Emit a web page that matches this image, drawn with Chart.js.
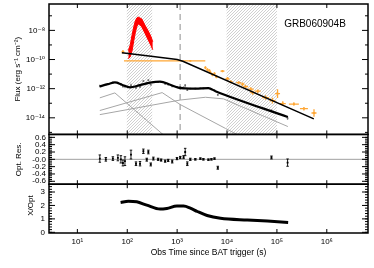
<!DOCTYPE html>
<html>
<head>
<meta charset="utf-8">
<script src="https://cdn.jsdelivr.net/npm/chart.js@4.4.0/dist/chart.umd.min.js"></script>
<style>
html, body { margin: 0; padding: 0; background: #fff; }
#wrap { position: relative; width: 374px; height: 268px; }
</style>
</head>
<body>
<div id="wrap"><canvas id="lc" width="374" height="268"></canvas></div>
<script>
// axis ranges
const tMin = 2.7, tMax = 6.7e6;
const fluxMinExp = -15.14, fluxMaxExp = -6.19;
const resMin = -0.68, resMax = 0.68;
const ratioMin = -0.05, ratioMax = 3.58;

// tick labels
const xTickVals = [1e1, 1e2, 1e3, 1e4, 1e5, 1e6];
const xTickLbls = ['10¹', '10²', '10³', '10⁴', '10⁵', '10⁶'];
const fluxTickExp = [-8, -10, -12, -14];
const fluxTickLbls = ['10⁻⁸', '10⁻¹⁰', '10⁻¹²', '10⁻¹⁴'];
const fluxMinorExp = [-7, -9, -11, -13, -15];
const resTicks = [0.6, 0.4, 0.2, 0, -0.2, -0.4, -0.6];
const resTickLbls = ['0.6', '0.4', '0.2', '-0.0', '-0.2', '-0.4', '-0.6'];
const ratioTicks = [0, 1, 2, 3];

// shaded intervals and break line (s)
const hatchFrom = [98, 9800];
const hatchTo = [316, 100000];
const breakT = 1150;

// BAT (red band), log10 flux
const batT = [105, 115, 125, 135, 145, 155, 165, 180, 195, 210, 230, 250, 275, 300, 325];
const batHi = [-9.40, -8.99, -8.31, -7.76, -7.35, -7.15, -7.08, -7.15, -7.21, -7.42, -7.69, -7.90, -8.17, -8.44, -8.79];
const batLo = [-9.95, -9.81, -9.40, -8.72, -8.17, -7.76, -7.56, -7.62, -7.76, -7.97, -8.24, -8.51, -8.79, -9.06, -9.33];

// XRT points (orange), log10 flux, errors in dex
const xrtT = [82, 1840, 3690, 4050, 4440, 4650, 5100, 5600, 6140, 8110, 10200, 11800, 17100, 20500, 23600, 29800, 32700, 41200, 59200, 81400, 103000, 131000, 219000, 348000, 554000];
const xrtF = [-9.47, -10.09, -10.56, -10.70, -10.77, -10.90, -11.04, -10.97, -11.18, -10.80, -11.32, -11.52, -11.59, -11.69, -11.86, -12.03, -12.27, -12.17, -12.61, -12.82, -12.34, -13.02, -13.06, -13.37, -13.67];
const xrtDtL = [0.03, 1.33, 0.02, 0.02, 0.02, 0.02, 0.02, 0.02, 0.03, 0.04, 0.04, 0.04, 0.05, 0.04, 0.05, 0.06, 0.05, 0.06, 0.07, 0.06, 0.05, 0.06, 0.10, 0.08, 0.05];
const xrtDtR = [0.03, 0.30, 0.02, 0.02, 0.02, 0.02, 0.02, 0.02, 0.03, 0.04, 0.04, 0.04, 0.05, 0.04, 0.05, 0.06, 0.05, 0.06, 0.07, 0.06, 0.05, 0.06, 0.10, 0.08, 0.05];
const xrtDf = [0.12, 0.03, 0.10, 0.10, 0.10, 0.10, 0.10, 0.10, 0.10, 0.08, 0.12, 0.10, 0.10, 0.12, 0.12, 0.12, 0.15, 0.12, 0.15, 0.20, 0.30, 0.15, 0.12, 0.12, 0.25];

// X-ray model
const xModelT = [78, 300, 1000, 1300, 550000];
const xModelF = [-9.54, -9.78, -10.00, -10.12, -14.07];

// optical model
const optModelT = [28.2, 40.9, 56.5, 78.2, 113, 180, 287, 456, 726, 1052, 1456, 2317, 4240, 5860, 165500];
const optModelF = [-11.84, -11.69, -11.57, -11.73, -11.91, -11.76, -11.59, -11.52, -11.73, -11.93, -11.98, -12.00, -11.96, -12.17, -13.95];

// optical data: flux, residual, error
const optT = [28.2, 37.2, 51.5, 64.9, 74.6, 81.9, 89.9, 118.8, 149.7, 180.3, 210.5, 246, 265, 296, 334, 416, 478, 575, 662, 797, 991, 1154, 1346, 1450, 1600, 1837, 2317, 2924, 3360, 4240, 4870, 5600, 6530, 77800, 163700];
const optF = [-11.82, -11.73, -11.58, -11.60, -11.71, -11.85, -11.85, -11.77, -11.94, -11.88, -11.48, -11.66, -11.42, -11.73, -11.55, -11.53, -11.56, -11.67, -11.72, -11.84, -11.88, -11.89, -11.91, -11.78, -12.10, -11.99, -12.00, -11.97, -11.98, -11.97, -12.05, -12.10, -12.42, -13.49, -14.04];
const optRes = [0.02, 0.00, 0.02, 0.04, 0.00, -0.10, -0.05, 0.13, -0.12, -0.12, 0.22, -0.01, 0.20, -0.14, 0.02, 0.00, -0.02, -0.05, -0.03, -0.06, 0.02, 0.05, 0.06, 0.20, -0.12, 0.00, 0.00, 0.02, 0.00, -0.01, 0.00, 0.02, -0.23, 0.05, -0.09];
const optErr = [0.10, 0.05, 0.05, 0.08, 0.10, 0.08, 0.12, 0.12, 0.05, 0.06, 0.06, 0.04, 0.05, 0.04, 0.04, 0.03, 0.03, 0.03, 0.03, 0.04, 0.03, 0.03, 0.04, 0.10, 0.05, 0.03, 0.02, 0.02, 0.02, 0.02, 0.02, 0.02, 0.04, 0.04, 0.10];

// model components (grey)
const compAT = [28.2, 56.5, 708];
const compAF = [-12.63, -12.29, -15.54];
const compBT = [28.2, 501, 1153, 9330, 20000];
const compBF = [-13.50, -12.27, -13.09, -14.73, -15.32];
const compCT = [28.2, 1153, 3690, 8490, 166000];
const compCF = [-13.78, -12.78, -12.59, -12.70, -14.60];

// X/Opt ratio
const ratioT = [73.6, 105, 155, 246, 456, 622, 991, 1346, 1837, 2540, 3990, 7390, 25500, 64500, 168000];
const ratioV = [2.22, 2.32, 2.27, 2.02, 1.73, 1.78, 1.95, 1.95, 1.80, 1.55, 1.25, 1.04, 0.91, 0.84, 0.74];

const p10 = v => Math.pow(10, v);
const logPts = (ts, vs) => ts.map((t, i) => ({x: t, y: p10(vs[i])}));
const linPts = (ts, vs) => ts.map((t, i) => ({x: t, y: vs[i]}));

// error bars as broken line segments
function errBars(ts, vs, dv, dxL, dxR, logY, cap) {
    const out = [];
    const Y = v => logY ? p10(v) : v;
    ts.forEach((t, i) => {
        const v = vs[i], d = dv[i];
        out.push({x: t, y: Y(v - d)}, {x: t, y: Y(v + d)}, {x: t, y: NaN});
        if (dxL) {
            out.push({x: t / p10(dxL[i]), y: Y(v)}, {x: t * p10(dxR[i]), y: Y(v)}, {x: t, y: NaN});
        }
        if (cap) {
            const k = p10(cap);
            [v - d, v + d].forEach(e => out.push({x: t / k, y: Y(e)}, {x: t * k, y: Y(e)}, {x: t, y: NaN}));
        }
    });
    return out;
}

// hatch pattern
const hatchTile = (() => {
    const c = document.createElement('canvas');
    c.width = 3; c.height = 3;
    const g = c.getContext('2d');
    g.strokeStyle = '#c4c4c4';
    g.lineWidth = 0.8;
    g.beginPath();
    g.moveTo(0, 3); g.lineTo(3, 0);
    g.moveTo(-1, 1); g.lineTo(1, -1);
    g.moveTo(2, 4); g.lineTo(4, 2);
    g.stroke();
    return c;
})();

const panels = [
    {id: 'y', major: fluxTickExp.map(p10), minor: fluxMinorExp.map(p10)},
    {id: 'yr', major: resTicks, minor: Array.from({length: 25}, (_, i) => -0.6 + i * 0.05)},
    {id: 'yx', major: ratioTicks, minor: Array.from({length: 18}, (_, i) => i * 0.2)}
];

const decor = {
    id: 'decor',
    beforeDatasetsDraw(chart) {
        const {ctx} = chart;
        const x = chart.scales.x, y = chart.scales.y;
        ctx.save();
        ctx.fillStyle = ctx.createPattern(hatchTile, 'repeat');
        hatchFrom.forEach((t0, i) => {
            const a = x.getPixelForValue(t0), b = x.getPixelForValue(hatchTo[i]);
            ctx.fillRect(a, y.top, b - a, y.bottom - y.top);
        });
        ctx.restore();
    },
    afterDatasetsDraw(chart) {
        const {ctx} = chart;
        const x = chart.scales.x;
        ctx.save();
        ctx.strokeStyle = '#000';
        panels.forEach(p => {
            const s = chart.scales[p.id];
            ctx.lineWidth = 1;
            ctx.beginPath();
            const tick = (vals, len) => vals.forEach(v => {
                const py = s.getPixelForValue(v);
                if (py < s.top - 0.5 || py > s.bottom + 0.5) return;
                ctx.moveTo(x.left, py); ctx.lineTo(x.left + len, py);
                ctx.moveTo(x.right, py); ctx.lineTo(x.right - len, py);
            });
            tick(p.major, 6);
            tick(p.minor, 3);
            xTickVals.forEach(v => {
                const px = x.getPixelForValue(v);
                ctx.moveTo(px, s.top); ctx.lineTo(px, s.top + 4);
                ctx.moveTo(px, s.bottom); ctx.lineTo(px, s.bottom - 4);
            });
            ctx.stroke();
            ctx.lineWidth = 1.5;
            ctx.strokeRect(x.left, s.top, x.right - x.left, s.bottom - s.top);
        });
        ctx.restore();
    },
    afterDraw(chart) {
        const {ctx} = chart;
        const x = chart.scales.x;
        ctx.save();
        ctx.fillStyle = '#000';
        ctx.textAlign = 'center';
        ctx.textBaseline = 'middle';
        ctx.font = '10px "Liberation Sans"';
        ctx.fillText('GRB060904B', 315, 24);
        ctx.font = '8.5px "Liberation Sans"';
        ctx.fillText('Obs Time since BAT trigger (s)', (x.left + x.right) / 2, 253);
        const vtitle = (txt, cx, cy) => {
            ctx.save();
            ctx.translate(cx, cy);
            ctx.rotate(-Math.PI / 2);
            ctx.fillText(txt, 0, 0);
            ctx.restore();
        };
        ctx.font = '8px "Liberation Sans"';
        const sy = chart.scales.y, sr = chart.scales.yr, sx = chart.scales.yx;
        vtitle('Flux (erg s⁻¹ cm⁻²)', 18, (sy.top + sy.bottom) / 2);
        vtitle('Opt. Res.', 19, (sr.top + sr.bottom) / 2);
        vtitle('X/Opt', 31, (sx.top + sx.bottom) / 2 - 3);
        ctx.restore();
    }
};

const orange = '#ffa735';
const compGrey = '#a6a6a6';

const datasets = [
    {data: logPts(xModelT, xModelF), yAxisID: 'y', borderColor: '#000', borderWidth: 1.5},
    {data: logPts(optModelT, optModelF), yAxisID: 'y', borderColor: '#000', borderWidth: 2.2, cubicInterpolationMode: 'monotone'},
    {data: logPts(xrtT, xrtF), yAxisID: 'y', showLine: false, pointRadius: 1.3, pointStyle: 'rect', pointBackgroundColor: orange, pointBorderWidth: 0},
    {data: errBars(xrtT, xrtF, xrtDf, xrtDtL, xrtDtR, true), yAxisID: 'y', borderColor: orange, borderWidth: 1.3},
    {data: logPts(optT, optF), yAxisID: 'y', showLine: false, pointRadius: 1.2, pointStyle: 'rect', pointBackgroundColor: '#707070', pointBorderWidth: 0},
    {data: errBars(optT, optF, optErr, null, null, true), yAxisID: 'y', borderColor: '#8a8a8a', borderWidth: 1},
    {data: logPts(batT, batHi), yAxisID: 'y', borderColor: '#ff0000', borderWidth: 1, backgroundColor: '#ff0000', fill: '+1'},
    {data: logPts(batT, batLo), yAxisID: 'y', borderColor: '#ff0000', borderWidth: 1},
    {data: logPts(compAT, compAF), yAxisID: 'y', borderColor: compGrey, borderWidth: 1},
    {data: logPts(compBT, compBF), yAxisID: 'y', borderColor: compGrey, borderWidth: 1},
    {data: logPts(compCT, compCF), yAxisID: 'y', borderColor: compGrey, borderWidth: 1},
    {data: [{x: breakT, y: p10(fluxMaxExp)}, {x: breakT, y: p10(fluxMinExp)}], yAxisID: 'y', borderColor: '#b8b8b8', borderWidth: 1.6, borderDash: [6, 4]},
    // residuals
    {data: linPts(optT, optRes), yAxisID: 'yr', showLine: false, pointRadius: 1.3, pointStyle: 'rect', pointBackgroundColor: '#000', pointBorderWidth: 0},
    {data: errBars(optT, optRes, optErr, null, null, false, 0.025), yAxisID: 'yr', borderColor: '#000', borderWidth: 0.9},
    {data: [{x: tMin, y: 0}, {x: tMax, y: 0}], yAxisID: 'yr', borderColor: '#a0a0a0', borderWidth: 1},
    // ratio
    {data: linPts(ratioT, ratioV), yAxisID: 'yx', borderColor: '#000', borderWidth: 3, cubicInterpolationMode: 'monotone'}
];
datasets.forEach(d => { if (d.pointRadius === undefined) d.pointRadius = 0; });

Chart.defaults.font.family = '"Liberation Sans", "DejaVu Sans", sans-serif';
Chart.defaults.font.size = 8;
Chart.defaults.color = '#000';

const noPad = s => { s.paddingTop = 0; s.paddingBottom = 0; s.paddingLeft = 0; s.paddingRight = 0; };

const yBase = (w) => ({
    position: 'left',
    stack: 'panels',
    grid: {display: false, drawTicks: false},
    border: {display: false},
    ticks: {padding: 4, autoSkip: false},
    afterFit: s => { s.width = 49; noPad(s); },
    weight: w
});

const lc = new Chart(document.getElementById('lc'), {
    type: 'line',
    data: {datasets},
    plugins: [decor],
    options: {
        responsive: false,
        animation: false,
        devicePixelRatio: 1,
        layout: {padding: {top: 3, right: 6, left: 0, bottom: 0}},
        plugins: {legend: {display: false}, tooltip: {enabled: false}},
        elements: {line: {tension: 0}},
        scales: {
            x: {
                type: 'logarithmic', position: 'bottom', min: tMin, max: tMax,
                grid: {display: false, drawTicks: false},
                border: {display: false},
                afterBuildTicks: s => { s.ticks = xTickVals.map(v => ({value: v})); },
                afterFit: s => { s.height = 35; noPad(s); },
                ticks: {padding: 4, autoSkip: false, maxRotation: 0,
                    callback: v => xTickLbls[xTickVals.indexOf(v)] || ''}
            },
            y: Object.assign(yBase(3), {
                type: 'logarithmic', min: p10(fluxMinExp), max: p10(fluxMaxExp), stackWeight: 131,
                afterBuildTicks: s => { s.ticks = fluxTickExp.map(e => ({value: p10(e)})); },
                ticks: {padding: 4, autoSkip: false,
                    callback: v => fluxTickLbls[fluxTickExp.indexOf(Math.round(Math.log10(v)))] || ''}
            }),
            yr: Object.assign(yBase(2), {
                type: 'linear', min: resMin, max: resMax, stackWeight: 50,
                afterBuildTicks: s => { s.ticks = resTicks.map(v => ({value: v})); },
                ticks: {padding: 3, autoSkip: false,
                    callback: v => resTickLbls[resTicks.indexOf(v)] || ''}
            }),
            yx: Object.assign(yBase(1), {
                type: 'linear', min: ratioMin, max: ratioMax, stackWeight: 49,
                afterBuildTicks: s => { s.ticks = ratioTicks.map(v => ({value: v})); },
                ticks: {padding: 4, autoSkip: false}
            })
        }
    }
});
</script>
</body>
</html>
